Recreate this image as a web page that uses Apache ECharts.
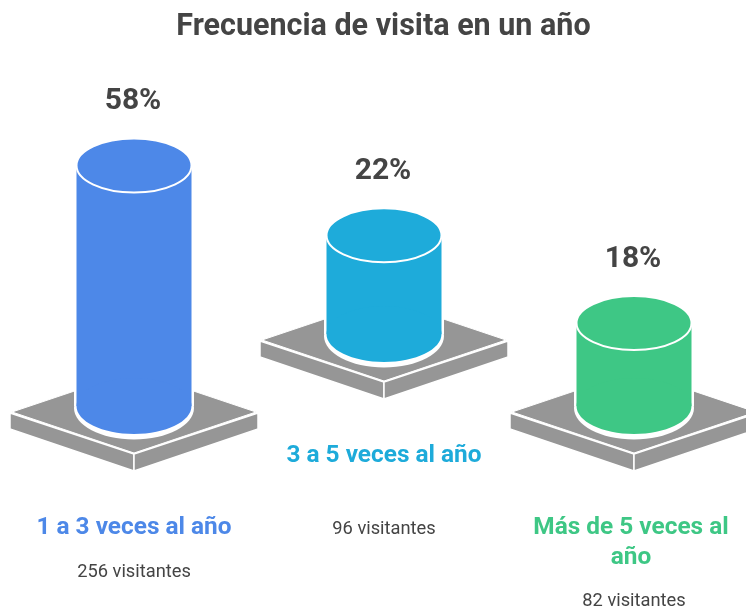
<!DOCTYPE html>
<html>
<head>
<meta charset="utf-8">
<title>Frecuencia de visita en un año</title>
<script src="https://cdn.jsdelivr.net/npm/echarts@6/dist/echarts.min.js"></script>
<style>
  html, body { margin: 0; padding: 0; background: #fff; }
  #chart { width: 746px; height: 610px; overflow: hidden; }
</style>
</head>
<body>
<div id="chart"></div>
<script>
const categories = ['1 a 3 veces al año', '3 a 5 veces al año', 'Más de 5 veces al\naño']
const shares = [58, 22, 18]
const visitors = [256, 96, 82]
const colors = ['#4d88e8', '#1eabda', '#3ec785']

// the middle column sits higher than the other two
const stagger = [0, 72, 0]
const visitorGap = [44, 73, 73]
const labelShift = [0, 0, -3]

const GREY = '#969696'
const TEXT = '#444444'
const RX = 57.5
const RY = 28
const STUB = 12
const PLATE_W = 122
const PLATE_H = 41
const PLATE_T = 16

function renderColumn(params, api) {
  const i = api.value(0)
  const top = api.coord([i, api.value(1)])
  const base = api.coord([i, 0])
  const cx = top[0]
  const lift = stagger[i]
  const topY = top[1] - lift
  const baseY = base[1] + STUB - lift
  const plateY = baseY + 6
  const color = colors[i]
  const plateStyle = { fill: GREY, stroke: '#fff', lineWidth: 1.5 }
  const labelY = baseY + 122

  return {
    type: 'group',
    children: [
      // plate sides, then top face
      {
        type: 'polygon',
        shape: { points: [[cx - PLATE_W - 2, plateY + 1], [cx, plateY + PLATE_H + 1], [cx, plateY + PLATE_H + PLATE_T + 2], [cx - PLATE_W - 2, plateY + PLATE_T + 1]] },
        style: plateStyle
      },
      {
        type: 'polygon',
        shape: { points: [[cx + PLATE_W + 2, plateY + 1], [cx, plateY + PLATE_H + 1], [cx, plateY + PLATE_H + PLATE_T + 2], [cx + PLATE_W + 2, plateY + PLATE_T + 1]] },
        style: plateStyle
      },
      {
        type: 'polygon',
        shape: { points: [[cx - PLATE_W, plateY], [cx, plateY - PLATE_H], [cx + PLATE_W, plateY], [cx, plateY + PLATE_H]] },
        style: { fill: GREY, stroke: '#fff', lineWidth: 1 }
      },
      // white halo round the foot of the column
      {
        type: 'rect',
        shape: { x: cx - RX - 2.5, y: topY, width: 2 * RX + 5, height: baseY - topY },
        style: { fill: '#fff' }
      },
      {
        type: 'ellipse',
        shape: { cx: cx, cy: baseY + 2, rx: RX + 2.5, ry: RY + 3.5 },
        style: { fill: '#fff' }
      },
      // column body
      {
        type: 'rect',
        shape: { x: cx - RX, y: topY, width: 2 * RX, height: baseY - topY },
        style: { fill: color }
      },
      {
        type: 'ellipse',
        shape: { cx: cx, cy: baseY, rx: RX, ry: RY },
        style: { fill: color }
      },
      // column top
      {
        type: 'ellipse',
        shape: { cx: cx, cy: topY, rx: RX, ry: RY - 1 },
        style: { fill: color, stroke: '#fff', lineWidth: 2 }
      },
      {
        type: 'text',
        style: {
          text: shares[i] + '%',
          x: cx - 1,
          y: topY - RY - 36,
          fill: TEXT,
          font: '700 30px Roboto',
          textAlign: 'center',
          textVerticalAlign: 'middle'
        }
      },
      {
        type: 'text',
        style: {
          text: categories[i],
          x: cx + labelShift[i],
          y: labelY - 15,
          fill: color,
          font: '700 24.4px Roboto',
          lineHeight: 30,
          textAlign: 'center',
          textVerticalAlign: 'top'
        }
      },
      {
        type: 'text',
        style: {
          text: visitors[i] + ' visitantes',
          x: cx,
          y: labelY + visitorGap[i],
          fill: TEXT,
          font: '400 18.3px Roboto',
          textAlign: 'center',
          textVerticalAlign: 'middle'
        }
      }
    ]
  }
}

const chart = echarts.init(document.getElementById('chart'), null, { renderer: 'canvas' })
chart.setOption({
  backgroundColor: '#fff',
  animation: false,
  title: {
    text: 'Frecuencia de visita en un año',
    left: 378.5,
    top: 7,
    textAlign: 'center',
    textStyle: { color: TEXT, fontFamily: 'Roboto', fontWeight: 700, fontSize: 30.5 }
  },
  grid: { left: 9, width: 750, top: 0, height: 394, outerBoundsMode: 'none' },
  xAxis: { type: 'category', data: categories, show: false },
  yAxis: { type: 'value', min: 0, max: 100, show: false },
  series: [{
    type: 'custom',
    renderItem: renderColumn,
    encode: { x: 0, y: 1 },
    data: shares.map((v, i) => [i, v])
  }]
})
</script>
</body>
</html>
